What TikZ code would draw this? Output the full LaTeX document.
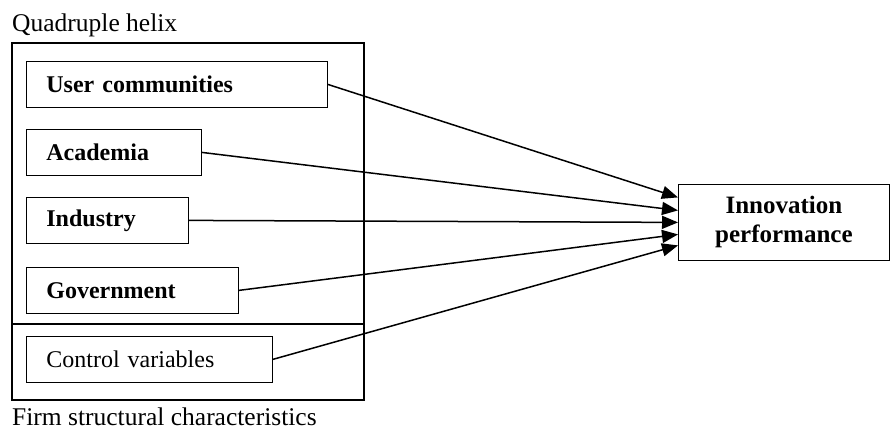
\documentclass[tikz,border=0pt]{standalone}
\usepackage{fontspec}
\setmainfont{Liberation Serif}
\usetikzlibrary{arrows.meta,calc}

\tikzset{
  factor/.style={draw, line width=0.8pt, rectangle, anchor=north west,
    inner xsep=20pt, inner ysep=0pt, minimum height=46pt, align=left,
    font=\fontsize{24}{29}\selectfont},
  outcome/.style={draw, line width=0.8pt, rectangle, anchor=north west,
    minimum width=211pt, minimum height=76pt, align=center,
    font=\fontsize{25}{29}\selectfont\bfseries},
  frame/.style={line width=1.7pt},
  caption/.style={anchor=base west, inner sep=0pt,
    font=\fontsize{25.5}{30}\selectfont},
  link/.style={line width=1.5pt, -{Triangle[length=16pt,width=13pt]}}
}

\begin{document}
\begin{tikzpicture}[x=1pt, y=-1pt]
  \useasboundingbox (0,0) rectangle (890,430);

  % enclosing frame with the divider between the two groups
  \draw[frame] (12,43) rectangle (364,400);
  \draw[frame] (12,324) -- (364,324);

  \node[caption] (qh) at (12,32) {Quadruple helix};
  \node[caption] (fsc) at (12,425) {Firm structural characteristics};

  % explanatory factors
  \node[factor, text width=261pt] (user) at (26,61) {\bfseries User communities};
  \node[factor, text width=135pt] (acad) at (26,129) {\bfseries Academia};
  \node[factor, text width=122pt] (ind) at (26,197) {\bfseries Industry};
  \node[factor, text width=172pt] (gov) at (26,267) {\bfseries Government};
  \node[factor, text width=206pt] (ctrl) at (26,336) {Control variables};

  % outcome
  \node[outcome] (innov) at (678,184) {Innovation\\performance};

  % effects
  \draw[link] (user.east) -- ($(innov.west)+(0,-25)$);
  \draw[link] (acad.east) -- ($(innov.west)+(0,-12)$);
  \draw[link] (ind.east)  -- ($(innov.west)+(0,0)$);
  \draw[link] (gov.east)  -- ($(innov.west)+(0,12)$);
  \draw[link] (ctrl.east) -- ($(innov.west)+(0,23)$);
\end{tikzpicture}
\end{document}
